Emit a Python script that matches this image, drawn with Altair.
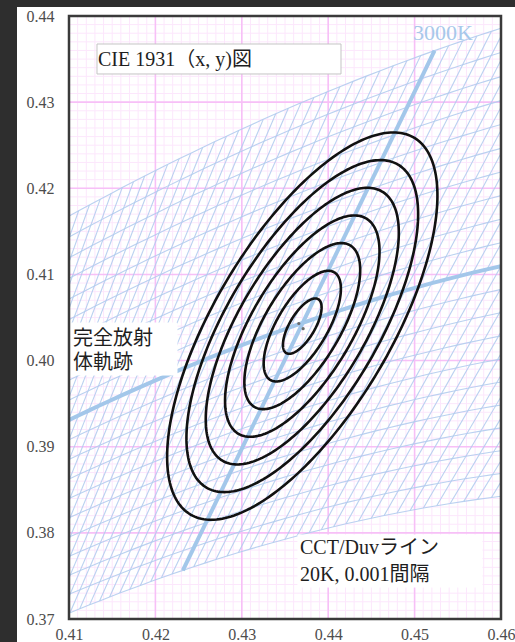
import altair as alt
import numpy as np
import pandas as pd

# ---- axis ticks -------------------------------------------------------------
X_TICKS = [0.41, 0.42, 0.43, 0.44, 0.45, 0.46]
Y_TICKS = [0.37, 0.38, 0.39, 0.40, 0.41, 0.42, 0.43, 0.44]
MINOR_X = [round(0.410 + 0.001 * i, 3) for i in range(51)]
MINOR_Y = [round(0.370 + 0.001 * i, 3) for i in range(71)]

# ---- CCT / Duv lattice: isotherms every 20 K, Duv lines every 0.001 ---------
CCT_LIST = list(range(2400, 3841, 20))
DUV_LIST = [round(-0.010 + 0.001 * i, 3) for i in range(21)]
HIGHLIGHT_CCT = 3000

# ---- concentric colour-tolerance ellipses (1 to 7 steps) --------------------
ELLIPSE_CENTER = (0.4370, 0.4040)
ELLIPSE_STEPS = [1, 2, 3, 4, 5, 6, 7]
ONE_STEP_SEMI_MAJOR = 0.00363
ONE_STEP_SEMI_MINOR = 0.00146
ELLIPSE_TILT_DEG = 59.4

CENTER_DOTS_X = [0.4366, 0.4371]
CENTER_DOTS_Y = [0.4043, 0.4037]


def planck_uv(t):
    """Planckian locus in CIE 1960 (u, v), Krystek's rational approximation."""
    t = np.asarray(t, dtype=float)
    u = (0.860117757 + 1.54118254e-4 * t + 1.28641212e-7 * t ** 2) / (
        1 + 8.42420235e-4 * t + 7.08145163e-7 * t ** 2)
    v = (0.317398726 + 4.22806245e-5 * t + 4.20481691e-8 * t ** 2) / (
        1 - 2.89741816e-5 * t + 1.61456053e-7 * t ** 2)
    return u, v


def cct_duv_to_xy(t, duv):
    """Chromaticity (x, y) of a colour with temperature t and offset duv."""
    u0, v0 = planck_uv(t)
    ua, va = planck_uv(t - 1.0)
    ub, vb = planck_uv(t + 1.0)
    tu, tv = ua - ub, va - vb
    n = np.hypot(tu, tv)
    u = u0 + duv * (-tv / n)
    v = v0 + duv * (tu / n)
    d = 2 * u - 8 * v + 4
    return float(3 * u / d), float(2 * v / d)


# lattice table
rows = []
for t in CCT_LIST:
    for i, duv in enumerate((DUV_LIST[0], DUV_LIST[-1])):
        x, y = cct_duv_to_xy(t, duv)
        rows.append({"line": f"T{t}", "idx": i, "x": x, "y": y})
for duv in DUV_LIST:
    for i, t in enumerate(CCT_LIST):
        x, y = cct_duv_to_xy(t, duv)
        rows.append({"line": f"D{duv}", "idx": i, "x": x, "y": y})
lattice = pd.DataFrame(rows)

locus = pd.DataFrame(
    [dict(zip(("x", "y"), cct_duv_to_xy(t, 0.0)), idx=i) for i, t in enumerate(CCT_LIST)]
)
iso3000 = pd.DataFrame(
    [dict(zip(("x", "y"), cct_duv_to_xy(HIGHLIGHT_CCT, d)), idx=i)
     for i, d in enumerate((DUV_LIST[0], DUV_LIST[-1]))]
)

# ellipse outlines
theta = np.radians(ELLIPSE_TILT_DEG)
phi = np.linspace(0, 2 * np.pi, 241)
erows = []
for k in ELLIPSE_STEPS:
    a = k * ONE_STEP_SEMI_MAJOR
    b = k * ONE_STEP_SEMI_MINOR
    ex = ELLIPSE_CENTER[0] + a * np.cos(phi) * np.cos(theta) - b * np.sin(phi) * np.sin(theta)
    ey = ELLIPSE_CENTER[1] + a * np.cos(phi) * np.sin(theta) + b * np.sin(phi) * np.cos(theta)
    for i, (px, py) in enumerate(zip(ex, ey)):
        erows.append({"step": k, "idx": i, "x": px, "y": py})
ellipses = pd.DataFrame(erows)

dots = pd.DataFrame({"x": CENTER_DOTS_X, "y": CENTER_DOTS_Y})
minor_x = pd.DataFrame({"v": MINOR_X})
minor_y = pd.DataFrame({"v": MINOR_Y})
major_x = pd.DataFrame({"v": X_TICKS})
major_y = pd.DataFrame({"v": Y_TICKS})

# ---- annotation boxes and labels (positions in chart coordinates) -----------
boxes = pd.DataFrame([
    {"x0": 0.41324, "x1": 0.44148, "y0": 0.43675, "y1": 0.43327, "edge": "#c4c4c4"},
    {"x0": 0.41000, "x1": 0.42250, "y0": 0.40436, "y1": 0.39832, "edge": "#ffffff"},
    {"x0": 0.43650, "x1": 0.45780, "y0": 0.37975, "y1": 0.37371, "edge": "#ffffff"},
])
labels = pd.DataFrame([
    {"x": 0.41336, "y": 0.43489, "text": "CIE 1931（x, y)図"},
    {"x": 0.41046, "y": 0.40250, "text": "完全放射"},
    {"x": 0.41046, "y": 0.39972, "text": "体軌跡"},
    {"x": 0.43674, "y": 0.37824, "text": "CCT/Duvライン"},
    {"x": 0.43674, "y": 0.37511, "text": "20K, 0.001間隔"},
])
cct_label = pd.DataFrame([{"x": 0.45329, "y": 0.43803, "text": "3000K"}])

one = pd.DataFrame({"k": [0]})

# ---- scales and axes ---------------------------------------------------------
SERIF = "Liberation Serif, Noto Sans CJK JP"
xs = alt.Scale(domain=[0.41, 0.46], nice=False, zero=False)
ys = alt.Scale(domain=[0.37, 0.44], nice=False, zero=False)
ax_x = alt.Axis(values=X_TICKS, format=".2f", grid=False, ticks=False, domain=False,
                labelFont="Liberation Serif", labelFontSize=16, labelColor="#4d4d4d",
                labelPadding=7, labelFlush=False, labelOverlap=False, title=None, zindex=2)
ax_y = alt.Axis(values=Y_TICKS, format=".2f", grid=False, ticks=False, domain=False,
                labelFont="Liberation Serif", labelFontSize=16, labelColor="#4d4d4d",
                labelPadding=15, labelOverlap=False, title=None, zindex=2)


def X(f):
    return alt.X(f, type="quantitative", scale=xs, axis=ax_x)


def Y(f):
    return alt.Y(f, type="quantitative", scale=ys, axis=ax_y)


# white figure panel behind everything
panel = alt.Chart(one).mark_rect(color="#ffffff", clip=False).encode(
    x=alt.value(-52), x2=alt.value(446), y=alt.value(-9), y2=alt.value(626)
)

grid_minor_v = alt.Chart(minor_x).mark_rule(color="#fce7fc", strokeWidth=1).encode(x=X("v"))
grid_minor_h = alt.Chart(minor_y).mark_rule(color="#fce7fc", strokeWidth=1).encode(y=Y("v"))
grid_major_v = alt.Chart(major_x).mark_rule(color="#f7c0f7", strokeWidth=1.6).encode(x=X("v"))
grid_major_h = alt.Chart(major_y).mark_rule(color="#f7c0f7", strokeWidth=1.6).encode(y=Y("v"))

hatch = alt.Chart(lattice).mark_line(color="#b2ccee", strokeWidth=1.1, opacity=0.9, clip=True).encode(
    x=X("x"), y=Y("y"), detail="line:N", order="idx:Q"
)
locus_line = alt.Chart(locus).mark_line(color="#a3c7ea", strokeWidth=4, clip=True).encode(
    x=X("x"), y=Y("y"), order="idx:Q"
)
iso_line = alt.Chart(iso3000).mark_line(color="#a3c7ea", strokeWidth=4, clip=True).encode(
    x=X("x"), y=Y("y"), order="idx:Q"
)
ellipse_lines = alt.Chart(ellipses).mark_line(color="#111111", strokeWidth=2.6, clip=True).encode(
    x=X("x"), y=Y("y"), detail="step:N", order="idx:Q"
)
center_dots = alt.Chart(dots).mark_point(filled=True, size=10, color="#6a6a6a", opacity=1).encode(
    x=X("x"), y=Y("y")
)

box_rects = alt.Chart(boxes).mark_rect(fill="#ffffff", strokeWidth=1).encode(
    x=X("x0"), x2=alt.X2("x1"), y=Y("y0"), y2=alt.Y2("y1"),
    stroke=alt.Stroke("edge:N", scale=None)
)
box_text = alt.Chart(labels).mark_text(
    align="left", baseline="middle", font=SERIF, fontSize=20, color="#1e1e1e"
).encode(x=X("x"), y=Y("y"), text="text:N")
cct_text = alt.Chart(cct_label).mark_text(
    align="center", baseline="middle", font="Liberation Serif", fontSize=22, color="#a7c8ea"
).encode(x=X("x"), y=Y("y"), text="text:N")

frame = alt.Chart(one).mark_rect(fillOpacity=0, stroke="#3a3a3a", strokeWidth=2.5, clip=False).encode(
    x=alt.value(0), x2=alt.value(432), y=alt.value(0), y2=alt.value(603)
)

chart = alt.layer(
    panel, grid_minor_v, grid_minor_h, grid_major_v, grid_major_h,
    hatch, locus_line, iso_line, ellipse_lines, center_dots,
    box_rects, box_text, cct_text, frame,
).properties(
    width=432, height=603,
    autosize=alt.AutoSizeParams(type="none"),
    padding={"left": 69, "top": 16, "right": 14, "bottom": 23},
).configure(
    background="#2e2e2e",
).configure_view(
    stroke=None,
)

chart.save("out.html", embed_options={"renderer": "svg", "actions": False})
